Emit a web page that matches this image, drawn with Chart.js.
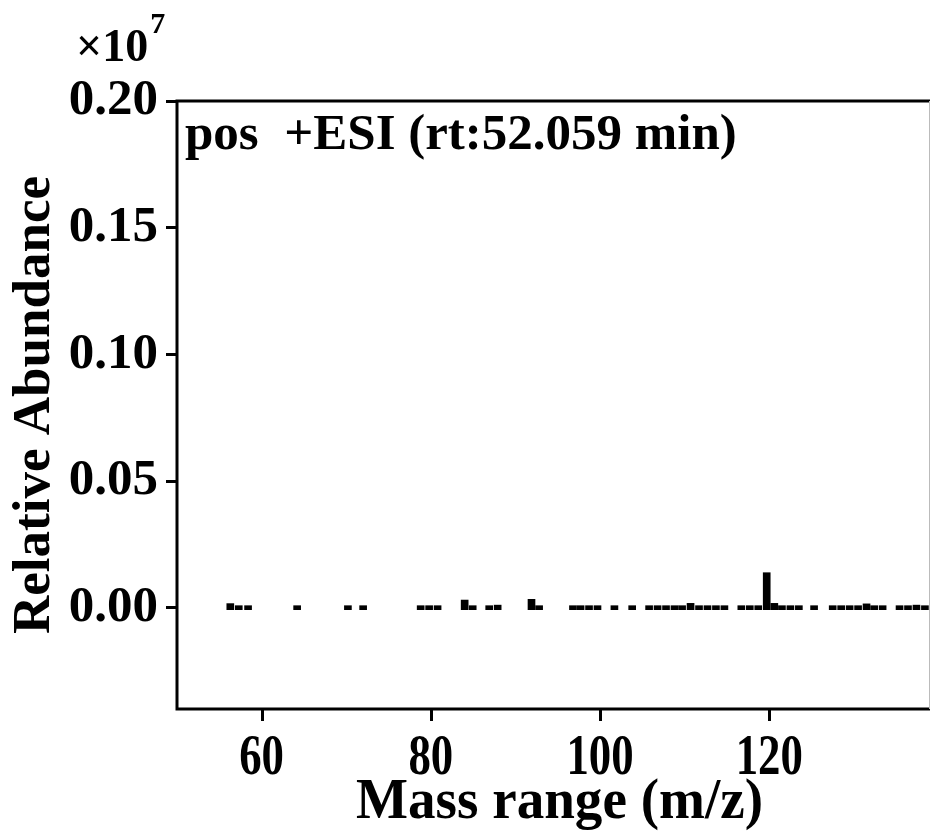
<!DOCTYPE html>
<html>
<head>
<meta charset="utf-8">
<script src="https://cdn.jsdelivr.net/npm/chart.js@4.4.0/dist/chart.umd.min.js"></script>
<style>
  html, body { margin: 0; padding: 0; background: #fff; overflow: hidden; }
</style>
</head>
<body>
<canvas id="myChart" width="930" height="832"></canvas>
<script>
// peaks (m/z, relative abundance x1e7)
const mz = [56.3, 57.3, 58.4, 64.2, 70.2, 72.0, 78.8, 79.8, 80.8, 84.0, 84.95, 86.9, 87.9, 91.9, 92.8,
  96.8, 97.7, 98.7, 99.7, 101.7, 103.8, 105.8, 106.8, 107.8, 108.8, 109.7, 110.7, 111.7, 112.7, 113.7, 114.7,
  116.7, 117.7, 118.7, 119.7, 120.6, 121.5, 122.5, 123.5, 125.3, 127.5, 128.5, 129.5, 130.5, 131.5, 132.4,
  133.4, 135.4, 136.4, 137.4, 138.4];
const abundance = [0.0016, 0.0005, 0.0004, 0.0003, 0.0003, 0.0003, 0.0003, 0.0003, 0.0004, 0.0030, 0.0004, 0.0004, 0.0010, 0.0033, 0.0005,
  0.0003, 0.0003, 0.0003, 0.0003, 0.0003, 0.0003, 0.0003, 0.0003, 0.0003, 0.0003, 0.0004, 0.0017, 0.0004, 0.0003, 0.0003, 0.0003,
  0.0003, 0.0003, 0.0004, 0.0138, 0.0017, 0.0004, 0.0003, 0.0003, 0.0003, 0.0003, 0.0003, 0.0003, 0.0004, 0.0015, 0.0004,
  0.0003, 0.0003, 0.0004, 0.0010, 0.0003];
const xTicks = [60, 80, 100, 120];
const yTicks = [0, 0.05, 0.10, 0.15, 0.20];

const serif = "'Liberation Serif', 'Times New Roman', serif";

// draws a string squeezed horizontally (the x axis text in the original is condensed)
function narrowText(ctx, txt, x, y, sx) {
  ctx.save();
  ctx.translate(x, y);
  ctx.scale(sx, 1);
  ctx.fillText(txt, 0, 0);
  ctx.restore();
}

const frame = {
  id: 'frame',
  afterDraw(chart) {
    const {ctx, chartArea: a} = chart;
    const xs = chart.scales.x;
    ctx.save();
    ctx.strokeStyle = '#000';
    ctx.lineWidth = 3;
    // left, top, bottom spines (the right one is cut off in the original)
    ctx.beginPath();
    ctx.moveTo(a.right, a.top);
    ctx.lineTo(a.left, a.top);
    ctx.lineTo(a.left, a.bottom);
    ctx.lineTo(a.right, a.bottom);
    ctx.stroke();
    ctx.strokeStyle = '#bbb';
    ctx.lineWidth = 1;
    ctx.beginPath();
    ctx.moveTo(a.right - 0.5, a.top);
    ctx.lineTo(a.right - 0.5, a.bottom);
    ctx.stroke();

    // x tick marks
    ctx.strokeStyle = '#000';
    ctx.lineWidth = 3;
    xTicks.forEach(v => {
      const px = Math.round(xs.getPixelForValue(v)) + 0.5;
      ctx.beginPath();
      ctx.moveTo(px, a.bottom);
      ctx.lineTo(px, a.bottom + 12);
      ctx.stroke();
    });

    ctx.fillStyle = '#000';
    ctx.textBaseline = 'alphabetic';

    // x tick labels + title
    ctx.textAlign = 'center';
    ctx.font = 'bold 56px ' + serif;
    xTicks.forEach(v => narrowText(ctx, String(v), xs.getPixelForValue(v), 774, 0.8));
    ctx.font = 'bold 58px ' + serif;
    narrowText(ctx, 'Mass range (m/z)', (a.left + a.right) / 2 + 6, 818, 0.95);

    ctx.textAlign = 'left';
    ctx.font = 'bold 51px ' + serif;
    ctx.fillText('pos  +ESI (rt:52.059 min)', 185, 149);
    ctx.font = 'bold 46px ' + serif;
    ctx.fillText('\u00d710', 76, 61);
    let w = ctx.measureText('\u00d710').width;
    ctx.font = 'bold 30px ' + serif;
    ctx.fillText('7', 76 + w + 2, 33);
    ctx.restore();
  }
};

const ctx = document.getElementById('myChart').getContext('2d');
const myChart = new Chart(ctx, {
  type: 'bar',
  data: {
    datasets: [{
      data: mz.map((m, i) => ({x: m, y: abundance[i]})),
      backgroundColor: '#000',
      borderWidth: 0,
      barThickness: 7,
      base: -0.0008,
      minBarLength: 4
    }]
  },
  options: {
    responsive: false,
    animation: false,
    devicePixelRatio: 1,
    layout: { padding: { top: 101, right: 0, left: 0, bottom: 0 } },
    plugins: { legend: { display: false }, tooltip: { enabled: false } },
    scales: {
      x: {
        type: 'linear',
        min: 50,
        max: 139,
        offset: false,
        afterBuildTicks: s => { s.ticks = xTicks.map(v => ({value: v})); },
        afterFit: s => { s.height = 123; },
        grid: { display: false },
        border: { display: false },
        ticks: { display: false },
        title: { display: false }
      },
      y: {
        min: -0.04,
        max: 0.20,
        afterBuildTicks: s => { s.ticks = yTicks.map(v => ({value: v})); },
        afterFit: s => { s.width = 177; },
        grid: { drawOnChartArea: false, tickLength: 11, tickWidth: 3, color: '#000' },
        border: { display: false },
        ticks: { color: '#000', padding: 8, callback: v => v.toFixed(2),
          font: { family: serif, size: 51, weight: 'bold' } },
        title: { display: true, text: 'Relative Abundance', color: '#000',
          font: { family: serif, size: 53, weight: 'bold' }, padding: { top: 4, bottom: 0 } }
      }
    }
  },
  plugins: [frame]
});
</script>
</body>
</html>
